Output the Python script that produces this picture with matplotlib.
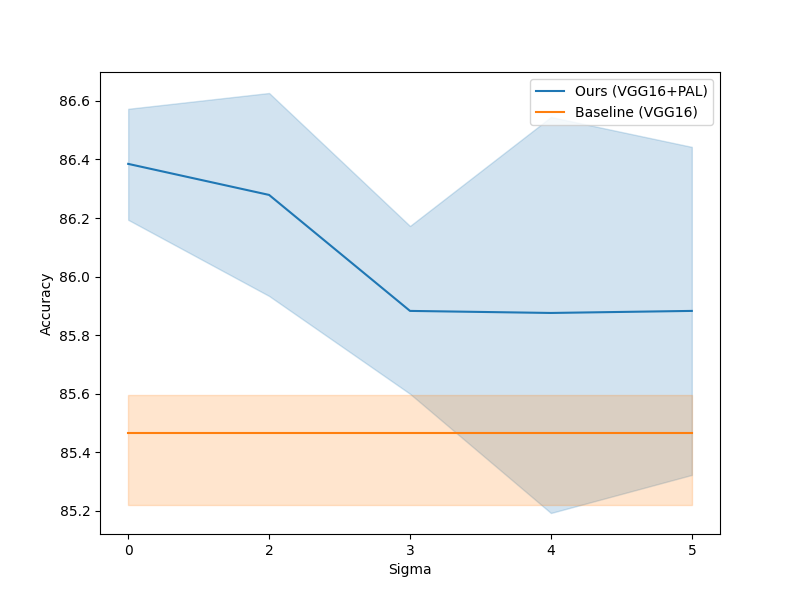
import matplotlib
matplotlib.use("Agg")
import matplotlib.pyplot as plt
import numpy as np

sigma_labels = ["0", "2", "3", "4", "5"]
ours_mean = [86.385, 86.279, 85.883, 85.876, 85.883]
ours_upper = [86.573, 86.627, 86.173, 86.545, 86.443]
ours_lower = [86.194, 85.934, 85.600, 85.193, 85.323]
base_mean = [85.466, 85.466, 85.466, 85.466, 85.466]
base_upper = [85.596, 85.596, 85.596, 85.596, 85.596]
base_lower = [85.220, 85.220, 85.220, 85.220, 85.220]

fig, ax = plt.subplots(figsize=(8, 6), dpi=100)
x = np.arange(len(sigma_labels))
ax.plot(x, ours_mean, color="#1f77b4", label="Ours (VGG16+PAL)")
ax.fill_between(x, ours_lower, ours_upper, color="#1f77b4", alpha=0.2)
ax.plot(x, base_mean, color="#ff7f0e", label="Baseline (VGG16)")
ax.fill_between(x, base_lower, base_upper, color="#ff7f0e", alpha=0.2)
ax.set_xticks(x)
ax.set_xticklabels(sigma_labels)
ax.set_xlabel("Sigma")
ax.set_ylabel("Accuracy")
ax.legend(loc="upper right")
fig.savefig("out.png")
